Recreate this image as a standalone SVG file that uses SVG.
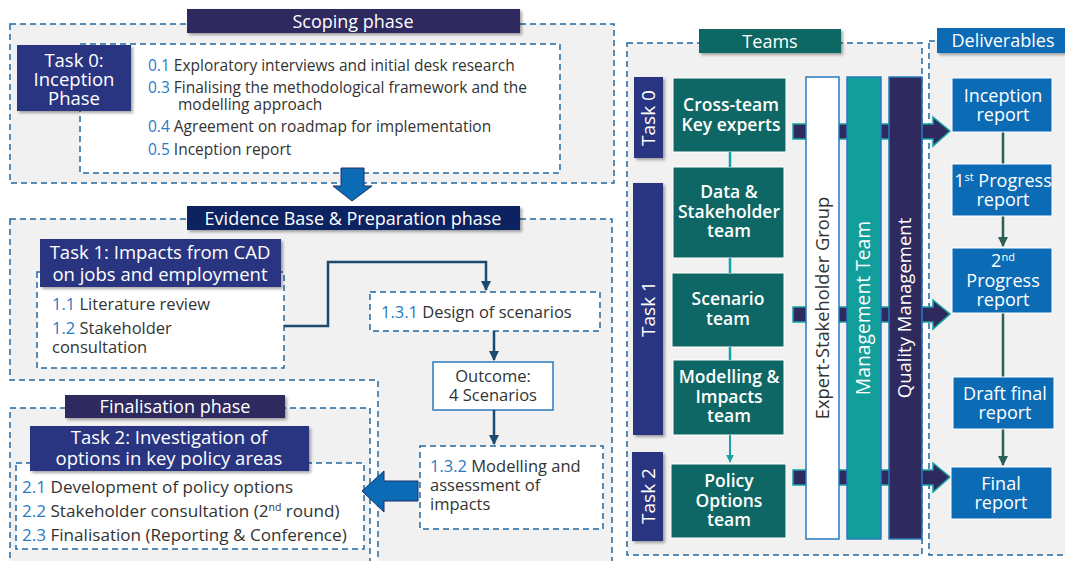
<svg xmlns="http://www.w3.org/2000/svg" width="1065" height="561" viewBox="0 0 1065 561">
<defs>
<filter id="sh" x="-10%" y="-20%" width="130%" height="150%"><feDropShadow dx="2" dy="2" stdDeviation="1.5" flood-color="#000" flood-opacity="0.35"/></filter>
<marker id="ah" viewBox="0 0 10 10" refX="9" refY="5" markerWidth="4" markerHeight="4" orient="auto"><path d="M0,0 L10,5 L0,10 Z" fill="#1b4a6e"/></marker>
<marker id="ahT" viewBox="0 0 10 10" refX="9" refY="5" markerWidth="4" markerHeight="4" orient="auto"><path d="M0,0 L10,5 L0,10 Z" fill="#17a3a3"/></marker>
<marker id="ahG" viewBox="0 0 10 10" refX="9" refY="5" markerWidth="4" markerHeight="4" orient="auto"><path d="M0,0 L10,5 L0,10 Z" fill="#2d5e56"/></marker>
<style>
.reg{fill:#f1f1f1;stroke:#2268a0;stroke-width:1.5;stroke-dasharray:6,4}
.wbox{fill:#fff;stroke:#2268a0;stroke-width:1.5;stroke-dasharray:6,4}
.lbl{font-family:"Open Sans",sans-serif;font-size:18px;fill:#fff;text-anchor:middle}
.tl{font-size:18.5px}
.task{fill:#2b3481}
.it{font-family:"Open Sans",sans-serif;font-size:16.5px;fill:#333}
.s{font-size:15.5px}
.f{font-size:17.1px}
.n{fill:#2a7ac4}
.tm{fill:#0e6764;stroke:#fff;stroke-width:1}
.tt{font-family:"Open Sans",sans-serif;font-size:17.5px;font-weight:600;fill:#fff;text-anchor:middle}
.dt{font-family:"Open Sans",sans-serif;font-size:18px;font-weight:400;fill:#fff;text-anchor:middle}
.dl{fill:#0b6bb5;stroke:#fff;stroke-width:1}
.vt{font-family:"Open Sans",sans-serif;font-size:18.5px;fill:#fff;text-anchor:middle}
.tk{font-size:19px}
.harr{fill:#2e2a5e;stroke:#17a3a3;stroke-width:1.5}
</style>
</defs>

<!-- regions -->
<rect class="reg" x="10" y="24" width="604" height="159"/>
<path class="reg" d="M10,219 H612 V570 H378 V380 H10 Z"/>
<rect class="reg" x="10" y="408" width="360" height="170"/>
<rect class="reg" x="627" y="43" width="295" height="512"/>
<rect class="reg" x="929" y="41" width="150" height="514"/>

<!-- Scoping phase -->
<g id="scoping">
<rect class="wbox" x="80" y="44" width="480" height="129"/>
<rect x="187" y="9" width="333" height="24" fill="#2e2a5e" filter="url(#sh)"/>
<text class="lbl" x="353" y="27.5">Scoping phase</text>
<g id="task0">
<rect class="task" x="17" y="45" width="114" height="66" filter="url(#sh)"/>
<text class="lbl tl" x="74" y="67">Task 0:</text>
<text class="lbl tl" x="74" y="86">Inception</text>
<text class="lbl tl" x="74" y="105">Phase</text>
</g>
<text class="it s" x="148" y="71"><tspan class="n">0.1</tspan> Exploratory interviews and initial desk research</text>
<text class="it s" x="148" y="93"><tspan class="n">0.3</tspan> Finalising the methodological framework and the</text>
<text class="it s" x="178" y="110">modelling approach</text>
<text class="it s" x="148" y="132"><tspan class="n">0.4</tspan> Agreement on roadmap for implementation</text>
<text class="it s" x="148" y="155"><tspan class="n">0.5</tspan> Inception report</text>
</g>

<!-- Evidence base -->
<g id="evidence">
<rect x="187" y="206" width="333" height="24" fill="#0e2461" filter="url(#sh)"/>
<text class="lbl" x="353" y="224.5">Evidence Base &amp; Preparation phase</text>
<rect class="wbox" x="37" y="272" width="247" height="96"/>
<g id="task1">
<rect class="task" x="40" y="239" width="241" height="48" filter="url(#sh)"/>
<text class="lbl tl" x="160" y="259">Task 1: Impacts from CAD</text>
<text class="lbl tl" x="160" y="281">on jobs and employment</text>
</g>
<text class="it" x="52" y="310"><tspan class="n">1.1</tspan> Literature review</text>
<text class="it" x="52" y="334"><tspan class="n">1.2</tspan> Stakeholder</text>
<text class="it" x="52" y="353">consultation</text>
</g>

<g id="n131">
<rect class="wbox" x="370" y="292" width="230" height="39"/>
<text class="it" x="381" y="318"><tspan class="n">1.3.1</tspan> Design of scenarios</text>
</g>
<g id="outcome">
<rect x="433" y="362" width="120" height="48" fill="#fff" stroke="#2a7abf" stroke-width="1.5"/>
<text class="it" x="493" y="382" text-anchor="middle">Outcome:</text>
<text class="it" x="493" y="401" text-anchor="middle">4 Scenarios</text>
</g>
<g id="n132">
<rect class="wbox" x="420" y="446" width="183" height="83"/>
<text class="it" x="430" y="472"><tspan class="n">1.3.2</tspan> Modelling and</text>
<text class="it" x="430" y="491">assessment of</text>
<text class="it" x="430" y="510">impacts</text>
</g>

<!-- Finalisation -->
<g id="finalisation">
<rect x="65" y="395" width="220" height="23" fill="#2e2a5e" filter="url(#sh)"/>
<text class="lbl" x="175" y="413">Finalisation phase</text>
<rect class="wbox" x="16" y="463" width="348" height="86"/>
<g id="task2">
<rect class="task" x="30" y="426" width="279" height="45" filter="url(#sh)"/>
<text class="lbl tl" x="169" y="444">Task 2: Investigation of</text>
<text class="lbl tl" x="169" y="465">options in key policy areas</text>
</g>
<text class="it f" x="22" y="493"><tspan class="n">2.1</tspan> Development of policy options</text>
<text class="it f" x="22" y="517"><tspan class="n">2.2</tspan> Stakeholder consultation (2<tspan font-size="10.5" dy="-6">nd</tspan><tspan dy="6"> round)</tspan></text>
<text class="it f" x="22" y="541"><tspan class="n">2.3</tspan> Finalisation (Reporting &amp; Conference)</text>
</g>

<!-- Teams -->
<g id="teams">
<rect x="699" y="29" width="142" height="24" fill="#0e6764" filter="url(#sh)"/>
<text class="lbl" x="770" y="47.5">Teams</text>
<g id="t0"><rect class="task" x="634" y="77" width="29" height="81" filter="url(#sh)"/><text class="vt tk" transform="translate(655,118) rotate(-90)">Task 0</text></g>
<g id="t1"><rect class="task" x="633" y="183" width="30" height="252" filter="url(#sh)"/><text class="vt tk" transform="translate(655,309) rotate(-90)">Task 1</text></g>
<g id="t2"><rect class="task" x="632" y="452" width="31" height="89" filter="url(#sh)"/><text class="vt tk" transform="translate(655,496) rotate(-90)">Task 2</text></g>
<g id="cross"><rect class="tm" x="673" y="78" width="113" height="74"/><text class="tt" x="731" y="111">Cross-team</text><text class="tt" x="731" y="131">Key experts</text></g>
<g id="data"><rect class="tm" x="673" y="167" width="111" height="91"/><text class="tt" x="729" y="198">Data &amp;</text><text class="tt" x="729" y="218">Stakeholder</text><text class="tt" x="729" y="237">team</text></g>
<g id="scen"><rect class="tm" x="672" y="273" width="112" height="74"/><text class="tt" x="728" y="305">Scenario</text><text class="tt" x="728" y="325">team</text></g>
<g id="model"><rect class="tm" x="673" y="360" width="111" height="75"/><text class="tt" x="729" y="383">Modelling &amp;</text><text class="tt" x="729" y="403">Impacts</text><text class="tt" x="729" y="422">team</text></g>
<g id="policy"><rect class="tm" x="671" y="464" width="115" height="74"/><text class="tt" x="729" y="487">Policy</text><text class="tt" x="729" y="507">Options</text><text class="tt" x="729" y="526">team</text></g>
</g>

<!-- connectors -->
<g id="connectors">
<polygon points="341,168 364,168 364,186 372,186 352,201 333,186 341,186" fill="#0b6bb5" stroke="#1d2f6b" stroke-width="1"/>
<polygon points="418,481 384,481 384,471 362,491 384,512 384,501 418,501" fill="#0b6bb5" stroke="#1d2f6b" stroke-width="1"/>
<path d="M284,326 H328 V262 H486 V290" fill="none" stroke="#1b4a6e" stroke-width="2.5" marker-end="url(#ah)"/>
<path d="M494,331 V360" fill="none" stroke="#1b4a6e" stroke-width="2.5" marker-end="url(#ah)"/>
<path d="M494,410 V444" fill="none" stroke="#1b4a6e" stroke-width="2.5" marker-end="url(#ah)"/>
<path d="M730,152 V167 M730,258 V273 M730,347 V360" stroke="#17a3a3" stroke-width="2.5" fill="none"/>
<path d="M730,435 V462" stroke="#17a3a3" stroke-width="2" fill="none" marker-end="url(#ahT)"/>
<polygon class="harr" points="793,124 933,124 933,117 950,131 933,146 933,139 793,139"/>
<polygon class="harr" points="793,307 933,307 933,300 950,314 933,329 933,322 793,322"/>
<polygon class="harr" points="793,470 933,470 933,463 950,477 933,492 933,485 793,485"/>
<path d="M1003,132 V164" stroke="#2d5e56" stroke-width="2.5" fill="none"/>
<path d="M1003,216 V246" stroke="#2d5e56" stroke-width="2.5" fill="none" marker-end="url(#ahG)"/>
<path d="M1003,313 V377" stroke="#2d5e56" stroke-width="2.5" fill="none"/>
<path d="M1003,429 V465" stroke="#2d5e56" stroke-width="2.5" fill="none" marker-end="url(#ahG)"/>
</g>

<!-- vertical bars -->
<g id="esg"><rect x="806" y="77" width="33" height="462" fill="#fff" stroke="#2a7abf" stroke-width="1.5"/><text transform="translate(829,308) rotate(-90)" font-family="Open Sans, sans-serif" font-size="18.3" fill="#333" text-anchor="middle">Expert-Stakeholder Group</text></g>
<g id="mgmt"><rect x="847" y="77" width="34" height="462" fill="#129e9b" stroke="#2a7abf" stroke-width="1.5"/><text class="vt" style="font-size:19.3px" transform="translate(870,308) rotate(-90)">Management Team</text></g>
<g id="qm"><rect x="889" y="77" width="33" height="462" fill="#2e2a5e" stroke="#2a7abf" stroke-width="1.5"/><text class="vt" transform="translate(911,308) rotate(-90)">Quality Management</text></g>

<!-- Deliverables -->
<g id="deliverables">
<rect x="937" y="28" width="128" height="25" fill="#0b6bb5" filter="url(#sh)"/>
<text class="lbl" x="1003" y="47">Deliverables</text>
<g id="d1"><rect class="dl" x="952" y="78" width="100" height="54"/><text class="dt" x="1003" y="102">Inception</text><text class="dt" x="1003" y="121">report</text></g>
<g id="d2"><rect class="dl" x="952" y="164" width="100" height="52"/><text class="dt" x="1003" y="187">1<tspan font-size="11" dy="-6">st</tspan><tspan dy="6"> Progress</tspan></text><text class="dt" x="1003" y="206">report</text></g>
<g id="d3"><rect class="dl" x="952" y="248" width="100" height="65"/><text class="dt" x="1003" y="267">2<tspan font-size="11" dy="-6">nd</tspan></text><text class="dt" x="1003" y="287">Progress</text><text class="dt" x="1003" y="306">report</text></g>
<g id="d4"><rect class="dl" x="953" y="377" width="101" height="52"/><text class="dt" x="1005" y="400">Draft final</text><text class="dt" x="1005" y="419">report</text></g>
<g id="d5"><rect class="dl" x="951" y="467" width="101" height="52"/><text class="dt" x="1001" y="490">Final</text><text class="dt" x="1001" y="509">report</text></g>
</g>
</svg>
